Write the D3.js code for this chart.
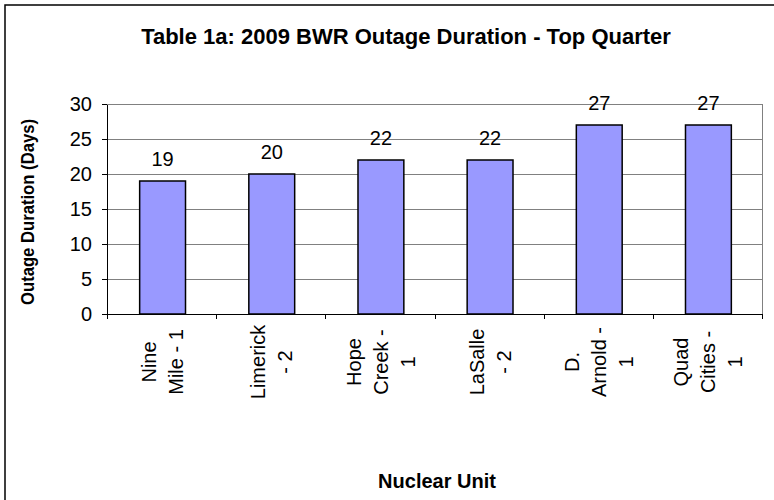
<!DOCTYPE html>
<meta charset="utf-8">
<style>
body { margin: 0; background: #fff; }
text { font-family: "Liberation Sans", Arial, sans-serif; fill: #000; }
.axis path, .axis line { fill: none; stroke: #000; shape-rendering: crispEdges; }
.grid line { stroke: #808080; shape-rendering: crispEdges; }
.bar { fill: #9999ff; stroke: #000; stroke-width: 1.5px; }
</style>
<body>
<script src="https://d3js.org/d3.v7.min.js"></script>
<script>

// data
var units = ["Nine Mile - 1", "Limerick - 2", "Hope Creek - 1", "LaSalle - 2", "D. Arnold - 1", "Quad Cities - 1"];
var unitLines = [["Nine", "Mile - 1"], ["Limerick", "- 2"], ["Hope", "Creek -", "1"], ["LaSalle", "- 2"], ["D.", "Arnold -", "1"], ["Quad", "Cities -", "1"]];
var days = [19, 20, 22, 22, 27, 27];
var yTicks = [0, 5, 10, 15, 20, 25, 30];

var W = 774, H = 500;
var plot = {left: 107, right: 762, top: 104, bottom: 314};

var svg = d3.select("body").append("svg")
    .attr("width", W)
    .attr("height", H);

// outer frame (runs off the right and bottom edges)
svg.append("rect")
    .attr("x", 5).attr("y", 5)
    .attr("width", W + 20).attr("height", H + 20)
    .attr("fill", "#fff")
    .attr("stroke", "#000")
    .attr("stroke-width", 1.5);

var x = d3.scaleBand().domain(units).range([plot.left, plot.right]);
var xEdge = d3.scaleLinear().domain([0, units.length]).range([plot.left, plot.right]);
var y = d3.scaleLinear().domain([0, 30]).range([plot.bottom, plot.top]);

// gridlines
svg.append("g")
    .attr("class", "grid")
  .selectAll("line")
  .data(yTicks.slice(1))
  .enter().append("line")
    .attr("x1", plot.left).attr("x2", plot.right)
    .attr("y1", d => y(d)).attr("y2", d => y(d));

svg.append("line")
    .attr("x1", plot.right).attr("x2", plot.right)
    .attr("y1", plot.top).attr("y2", plot.bottom)
    .attr("stroke", "#808080")
    .attr("shape-rendering", "crispEdges");

// bars
var bw = x.bandwidth() * 0.42;
svg.selectAll(".bar").data(days)
  .enter().append("rect")
    .attr("class", "bar")
    .attr("x", (d, i) => x(units[i]) + x.bandwidth() / 2 - bw / 2 + 1)
    .attr("y", d => y(d))
    .attr("width", bw)
    .attr("height", d => y(0) - y(d));

svg.selectAll(".val").data(days)
  .enter().append("text")
    .attr("class", "val")
    .attr("x", (d, i) => x(units[i]) + x.bandwidth() / 2 + 1)
    .attr("y", d => y(d) - 15)
    .attr("text-anchor", "middle")
    .attr("font-size", 20)
    .text(d => d);

// axes
var yAxis = svg.append("g")
    .attr("class", "axis")
    .attr("transform", "translate(" + plot.left + ",0)")
    .call(d3.axisLeft(y).tickValues(yTicks).tickSize(5).tickPadding(10).tickSizeOuter(0));
yAxis.selectAll("text").attr("font-size", 20).style("font-family", null);

svg.append("g")
    .attr("class", "axis")
    .attr("transform", "translate(0," + plot.bottom + ")")
    .call(d3.axisBottom(xEdge).tickValues(d3.range(units.length + 1)).tickSize(5).tickFormat("").tickSizeOuter(0));

// category labels, rotated, several lines each
var labelY = 362;
var lineGap = 27;
svg.selectAll(".cat").data(unitLines)
  .enter().append("g")
    .attr("class", "cat")
  .each(function(lines, i) {
    var cx = x(units[i]) + x.bandwidth() / 2 + 1;
    var g = d3.select(this);
    lines.forEach(function(t, j) {
      var vc = cx + (j - (lines.length - 1) / 2) * lineGap;
      g.append("text")
          .attr("transform", "translate(" + (vc + 7) + "," + labelY + ") rotate(-90)")
          .attr("text-anchor", "middle")
          .attr("font-size", 20)
          .text(t);
    });
  });

// titles
svg.append("text")
    .attr("x", 406).attr("y", 44)
    .attr("text-anchor", "middle")
    .attr("font-size", 22)
    .attr("font-weight", "bold")
    .text("Table 1a: 2009 BWR Outage Duration - Top Quarter");

svg.append("text")
    .attr("transform", "translate(34,212) rotate(-90)")
    .attr("text-anchor", "middle")
    .attr("font-size", 19)
    .attr("font-weight", "bold")
    .attr("textLength", 186)
    .attr("lengthAdjust", "spacingAndGlyphs")
    .text("Outage Duration (Days)");

svg.append("text")
    .attr("x", 437).attr("y", 488)
    .attr("text-anchor", "middle")
    .attr("font-size", 20)
    .attr("font-weight", "bold")
    .text("Nuclear Unit");

</script>
</body>
